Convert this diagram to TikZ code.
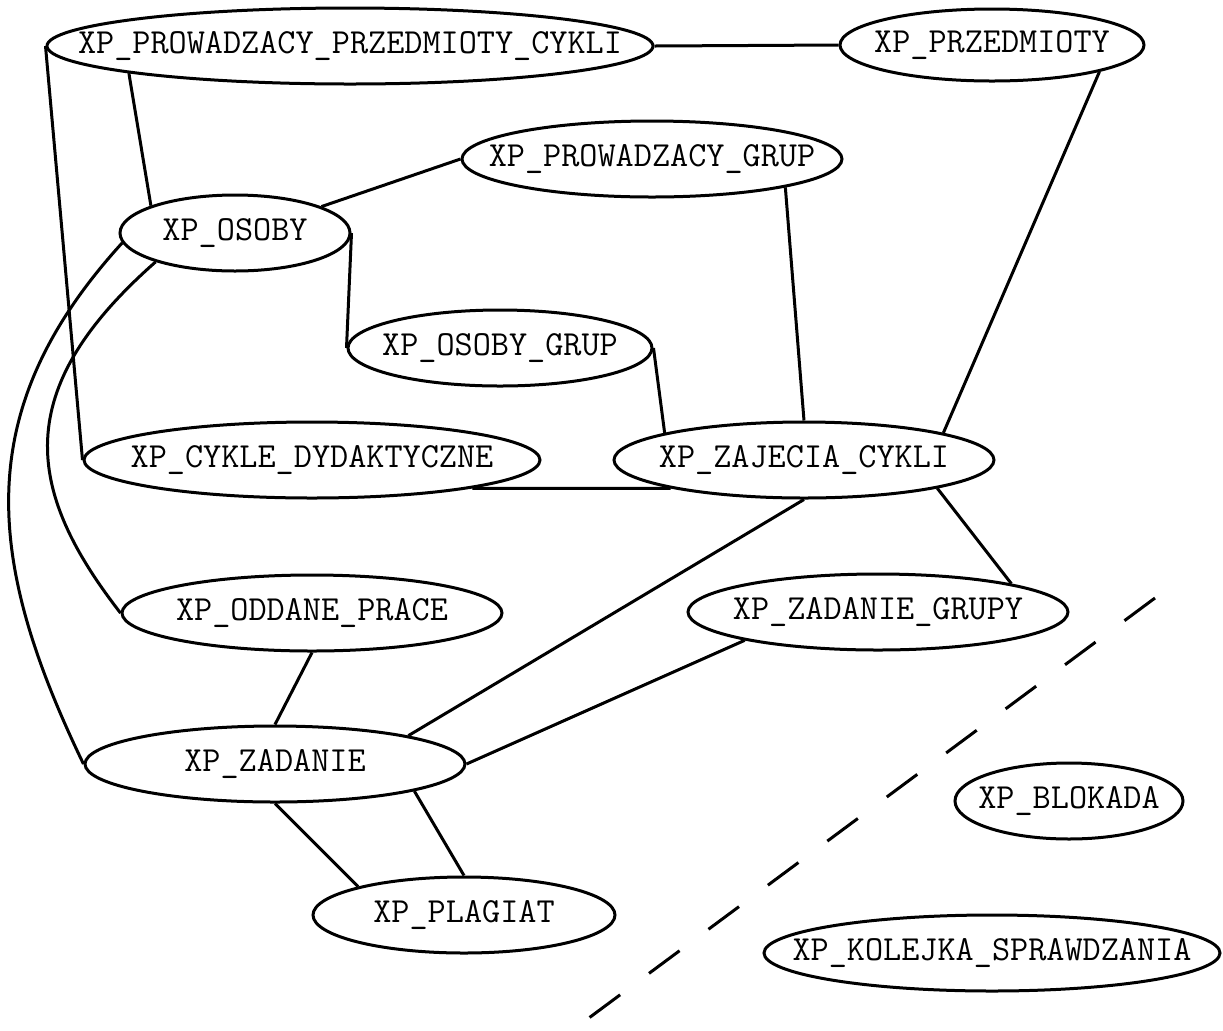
\documentclass[tikz,border=0pt]{standalone}
\usetikzlibrary{shapes.geometric}

\begin{document}
\begin{tikzpicture}[x=.5pt,y=-.5pt,line width=1.5pt,
    tab/.style={ellipse,draw,inner sep=0pt,minimum height=38pt,
      font=\fontsize{17.6}{20}\selectfont\ttfamily}]
    \def\lbl#1{\makebox[0pt]{#1}}
    \useasboundingbox (0,0) rectangle (1223,1030);
    \node[tab,minimum width=303pt] (ppc) at (350,46) {\lbl{XP\_PROWADZACY\_PRZEDMIOTY\_CYKLI}};
    \node[tab,minimum width=152pt,minimum height=36pt] (prz) at (992,45) {\lbl{XP\_PRZEDMIOTY}};
    \node[tab,minimum width=190pt] (pgrup) at (652,159) {\lbl{XP\_PROWADZACY\_GRUP}};
    \node[tab,minimum width=115pt] (osoby) at (235,233) {\lbl{XP\_OSOBY}};
    \node[tab,minimum width=152pt] (ogrup) at (500,348) {\lbl{XP\_OSOBY\_GRUP}};
    \node[tab,minimum width=228pt] (cyk) at (312,460) {\lbl{XP\_CYKLE\_DYDAKTYCZNE}};
    \node[tab,minimum width=190pt] (zaj) at (804,460) {\lbl{XP\_ZAJECIA\_CYKLI}};
    \node[tab,minimum width=190pt] (oddane) at (312,613) {\lbl{XP\_ODDANE\_PRACE}};
    \node[tab,minimum width=190pt] (zgrup) at (878,612) {\lbl{XP\_ZADANIE\_GRUPY}};
    \node[tab,minimum width=190pt] (zadanie) at (275,764) {\lbl{XP\_ZADANIE}};
    \node[tab,minimum width=114pt] (blokada) at (1069,801) {\lbl{XP\_BLOKADA}};
    \node[tab,minimum width=151pt] (plagiat) at (464,915) {\lbl{XP\_PLAGIAT}};
    \node[tab,minimum width=228pt] (kolejka) at (992,953) {\lbl{XP\_KOLEJKA\_SPRAWDZANIA}};
    \draw (ppc.east) -- (prz.west);
    \draw (ppc.west) -- (cyk.west);
    \draw (ppc.187.6) -- (osoby.162);
    \draw (osoby.17) -- (pgrup.west);
    \draw (osoby.east) -- (ogrup.west);
    \draw (pgrup.-12) -- (zaj.north);
    \draw (prz.-14) -- (zaj.11);
    \draw (ogrup.east) -- (zaj.169);
    \draw (cyk.-10.5) -- (zaj.192);
    \draw (osoby.200) .. controls (10,390) and (25,490) .. (oddane.west);
    \draw (osoby.185) .. controls (-30,410) and (-15,560) .. (zadanie.west);
    \draw (zaj.-12) -- (zgrup.12);
    \draw (zaj.south) -- (zadanie.12);
    \draw (oddane.south) -- (zadanie.north);
    \draw (zgrup.192) -- (zadanie.east);
    \draw (zadanie.south) -- (plagiat.165);
    \draw (zadanie.-11.5) -- (plagiat.north);
    % separator
    \coordinate (d1) at (1155,598);
    \coordinate (d2) at (570,1032);
    \draw[dash pattern=on 19pt off 18pt] (d1) -- (d2);
\end{tikzpicture}
\end{document}
